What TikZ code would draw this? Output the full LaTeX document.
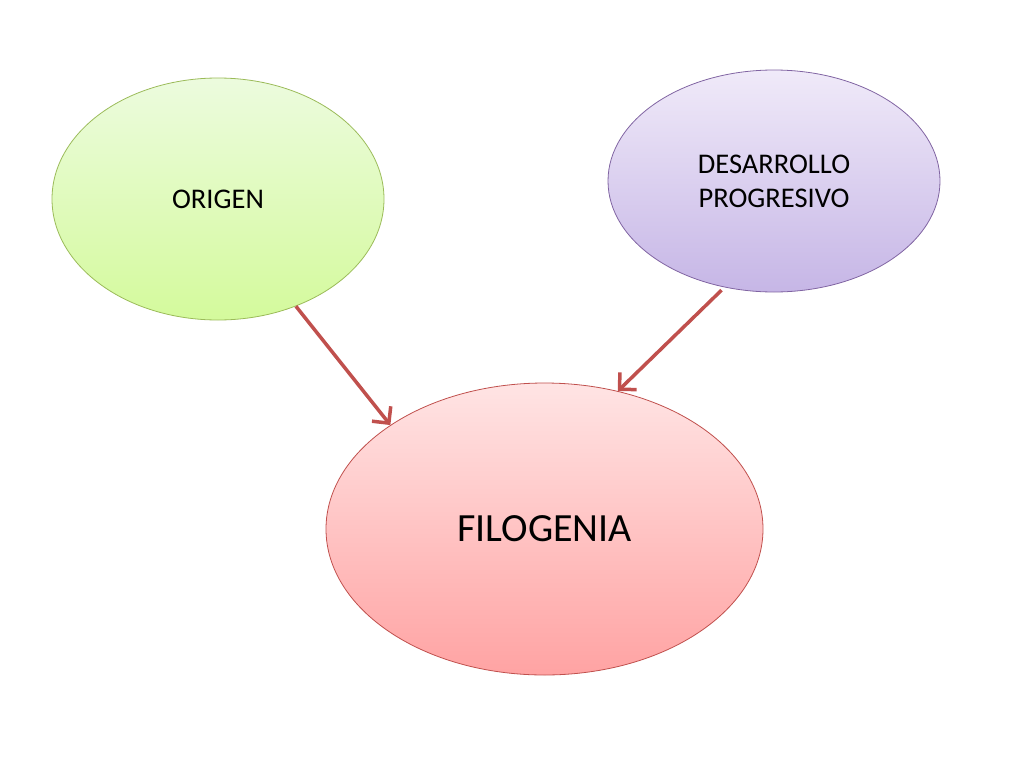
\documentclass[tikz,border=0pt]{standalone}
\usepackage{fontspec}
\setmainfont{Carlito}
\usetikzlibrary{positioning, shapes.geometric, arrows.meta}

\definecolor{greenrim}{RGB}{155,187,89}
\definecolor{greentop}{RGB}{236,251,222}
\definecolor{greenbot}{RGB}{212,250,156}
\definecolor{violetrim}{RGB}{128,100,162}
\definecolor{violettop}{RGB}{240,234,249}
\definecolor{violetbot}{RGB}{198,182,230}
\definecolor{redrim}{RGB}{192,80,77}
\definecolor{redtop}{RGB}{255,228,228}
\definecolor{redbot}{RGB}{255,163,163}

\begin{document}
\begin{tikzpicture}[
    x=1pt, y=1pt,
    bubble/.style    = {ellipse, inner sep=0pt, line width=0.8pt, align=center,
                        font=\fontsize{28.5}{34}\selectfont, text=black},
    greenbubble/.style  = {bubble, draw=greenrim,  top color=greentop,  bottom color=greenbot},
    violetbubble/.style = {bubble, draw=violetrim, top color=violettop, bottom color=violetbot},
    redbubble/.style    = {bubble, draw=redrim,    top color=redtop,    bottom color=redbot,
                           font=\fontsize{40}{48}\selectfont},
    conn/.style      = {line width=3.5pt, draw=redrim,
                        -{Straight Barb[length=12pt, width=24pt, line width=3.5pt]}},
]

%% ============================================================
%% CANVAS
%% ============================================================
\useasboundingbox (0,0) rectangle (1024,-768);

%% ============================================================
%% NODES
%% ============================================================
\node[greenbubble, minimum width=332, minimum height=242]  (origen) at (218,-199) {ORIGEN};
\node[violetbubble, minimum width=332, minimum height=222] (desarrollo) at (774,-181)
    {DESARROLLO\\PROGRESIVO};
\node[redbubble, minimum width=437, minimum height=292]    (filogenia) at (544.5,-529) {FILOGENIA};

%% ============================================================
%% CONNECTIONS
%% ============================================================
\draw[conn] (origen.-54) -- (filogenia.146);
\draw[conn, shorten <=4pt] (desarrollo.245) -- (filogenia.62);

\end{tikzpicture}
\end{document}
